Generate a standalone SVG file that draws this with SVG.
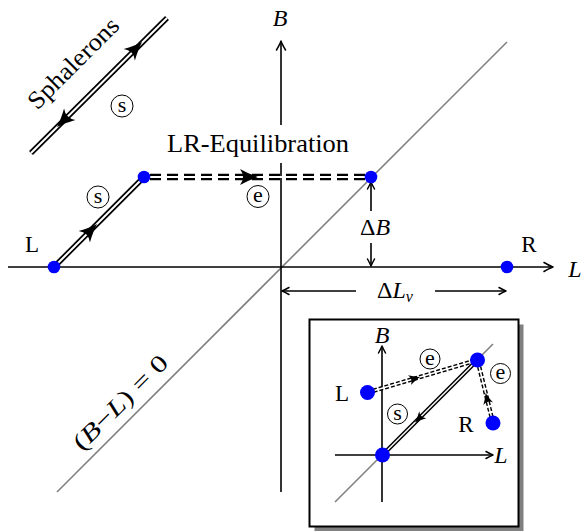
<svg xmlns="http://www.w3.org/2000/svg" width="583" height="531" viewBox="0 0 583 531">
<style>
text{font-family:"Liberation Serif","Times New Roman",serif;fill:#000}
.it{font-style:italic}
.lab{font-size:23px}
.math{font-size:24px}
.cl{font-size:22px}
.ax{stroke:#000;stroke-width:1.6;fill:none}
.gray{stroke:#808080;stroke-width:1.6;fill:none}
.to{fill:none;stroke:#000;stroke-width:1.5;stroke-linecap:round;stroke-linejoin:round}
.dot{fill:#0000ff}
.dblo{stroke:#000;stroke-width:5.5;fill:none}
.dbli{stroke:#fff;stroke-width:2;fill:none}
.dsho{stroke:#000;stroke-width:6.5;stroke-dasharray:11 6;fill:none}
.dshi{stroke:#fff;stroke-width:2.2;fill:none}
.sdblo{stroke:#000;stroke-width:4.4;fill:none}
.sdbli{stroke:#fff;stroke-width:1.5;fill:none}
.sdsho{stroke:#000;stroke-width:4.4;stroke-dasharray:4 2;fill:none}
.circ{fill:none;stroke:#000;stroke-width:1}
</style>
<defs>
<path id="ah" d="M0,0 Q-8,-2.5 -18,-8 Q-12,0 -18,8 Q-8,2.5 0,0Z" fill="#000"/>
<path id="ahs" d="M0,0 Q-5,-1.5 -11,-5 Q-7,0 -11,5 Q-5,1.5 0,0Z" fill="#000"/>
<path id="to" class="to" d="M-9,-4.5 Q-3,-1 0,0 Q-3,1 -9,4.5"/>
<path id="tos" class="to" d="M-7,-3.5 Q-2.5,-1 0,0 Q-2.5,1 -7,3.5"/>
</defs>

<g id="diagonal">
<line class="gray" x1="57" y1="492" x2="507" y2="42"/>
</g>

<g id="axes">
<line class="ax" x1="8" y1="267" x2="552" y2="267"/>
<use href="#to" transform="translate(553,267)"/>
<line class="ax" x1="281" y1="492" x2="281" y2="42"/>
<use href="#to" transform="translate(281,41) rotate(-90)"/>
</g>

<g id="label-LR">
<rect x="163" y="125" width="190" height="38" fill="#fff"/>
<text x="258" y="152" font-size="25" text-anchor="middle" textLength="182" lengthAdjust="spacingAndGlyphs">LR-Equilibration</text>
</g>

<g id="connectors">
<g id="sphaleron-line">
<line class="dblo" x1="31" y1="153" x2="167" y2="18"/>
<line class="dbli" x1="31" y1="153" x2="167" y2="18"/>
<use href="#ah" transform="translate(142,42) rotate(-45)"/>
<use href="#ah" transform="translate(57,127) rotate(135)"/>
</g>
<g id="L-to-S">
<line class="dblo" x1="54" y1="267" x2="144" y2="177"/>
<line class="dbli" x1="54" y1="267" x2="144" y2="177"/>
<use href="#ah" transform="translate(97,224) rotate(-45)"/>
</g>
<g id="S-to-E">
<line class="dsho" x1="150" y1="177" x2="371" y2="177"/>
<line class="dshi" x1="150" y1="177" x2="371" y2="177"/>
<use href="#ah" transform="translate(258,177)"/>
</g>
<g id="dB">
<line class="ax" x1="371" y1="211" x2="371" y2="183"/>
<use href="#tos" transform="translate(371,182) rotate(-90)"/>
<line class="ax" x1="371" y1="243" x2="371" y2="265"/>
<use href="#tos" transform="translate(371,266) rotate(90)"/>
</g>
<g id="dL">
<line class="ax" x1="356" y1="291" x2="283" y2="291"/>
<use href="#tos" transform="translate(282,291) rotate(180)"/>
<line class="ax" x1="435" y1="291" x2="505" y2="291"/>
<use href="#tos" transform="translate(506,291)"/>
</g>
</g>

<g id="node-L">
<circle class="dot" cx="54" cy="267" r="6.3"/>
<text class="lab" x="32" y="252" text-anchor="middle">L</text>
</g>
<g id="node-R">
<circle class="dot" cx="507" cy="267" r="6.3"/>
<text class="lab" x="529" y="252" text-anchor="middle">R</text>
</g>
<g id="node-S">
<circle class="dot" cx="144" cy="177" r="6.3"/>
</g>
<g id="node-E">
<circle class="dot" cx="371" cy="177" r="6.3"/>
</g>

<g id="labels">
<text class="math it" x="280" y="26" text-anchor="middle">B</text>
<text class="math it" x="575" y="277" text-anchor="middle">L</text>
<text class="math" x="375" y="235" text-anchor="middle">Δ<tspan class="it">B</tspan></text>
<text class="math" x="395" y="298" text-anchor="middle">Δ<tspan class="it">L</tspan><tspan class="it" font-size="16" dy="4">ν</tspan></text>
<text font-size="25" x="79" y="69" text-anchor="middle" transform="rotate(-45 79 69)" textLength="118" lengthAdjust="spacingAndGlyphs">Sphalerons</text>
<text font-size="24" x="126" y="408" text-anchor="middle" transform="rotate(-45 126 408)" textLength="124" lengthAdjust="spacingAndGlyphs">(<tspan class="it">B</tspan>−<tspan class="it">L</tspan>) = 0</text>
<g id="s1"><circle class="circ" cx="122" cy="106" r="11"/><text class="cl" x="122" y="111.5" text-anchor="middle">s</text></g>
<g id="s2"><circle class="circ" cx="98" cy="197" r="11"/><text class="cl" x="98" y="202.5" text-anchor="middle">s</text></g>
<g id="e1"><circle class="circ" cx="258" cy="196.5" r="11"/><text class="cl" x="258" y="202" text-anchor="middle">e</text></g>
</g>

<g id="inset">
<rect x="314.5" y="324.5" width="209" height="207" fill="#808080"/>
<rect x="309.5" y="319.5" width="209" height="207" fill="#fff" stroke="#000" stroke-width="2"/>
<line class="gray" x1="335" y1="502" x2="493" y2="344"/>
<line class="ax" x1="335" y1="455" x2="492" y2="455"/>
<use href="#tos" transform="translate(493,455)"/>
<line class="ax" x1="382" y1="502" x2="382" y2="347"/>
<use href="#tos" transform="translate(382,346) rotate(-90)"/>
<text class="math it" x="382" y="343" text-anchor="middle">B</text>
<text class="math it" x="501" y="463" text-anchor="middle">L</text>
<g id="inset-connectors">
<line class="sdsho" x1="367.5" y1="392.5" x2="477.5" y2="360"/>
<line class="sdbli" x1="367.5" y1="392.5" x2="477.5" y2="360"/>
<use href="#ahs" transform="translate(420,377) rotate(-16.5)"/>
<line class="sdsho" x1="493" y1="423" x2="477.5" y2="360"/>
<line class="sdbli" x1="493" y1="423" x2="477.5" y2="360"/>
<use href="#ahs" transform="translate(485.6,393) rotate(-103.8)"/>
<line class="sdblo" x1="477.5" y1="360" x2="382.5" y2="455"/>
<line class="sdbli" x1="477.5" y1="360" x2="382.5" y2="455"/>
<use href="#ahs" transform="translate(415,422.5) rotate(135)"/>
</g>
<g id="inset-node-L"><circle class="dot" cx="367.5" cy="392.5" r="7.5"/><text class="lab" x="342" y="401" text-anchor="middle">L</text></g>
<g id="inset-node-R"><circle class="dot" cx="493" cy="423" r="7.5"/><text class="lab" x="466" y="432" text-anchor="middle">R</text></g>
<g id="inset-node-top"><circle class="dot" cx="477.5" cy="360" r="7.5"/></g>
<g id="inset-node-origin"><circle class="dot" cx="382.5" cy="455" r="7.5"/></g>
<g id="ie1"><circle class="circ" cx="430" cy="359" r="10"/><text class="cl" x="430" y="364.5" text-anchor="middle">e</text></g>
<g id="ie2"><circle class="circ" cx="500.5" cy="373.5" r="10"/><text class="cl" x="500.5" y="379" text-anchor="middle">e</text></g>
<g id="is1"><circle class="circ" cx="397.5" cy="414" r="10"/><text class="cl" x="397.5" y="419.5" text-anchor="middle">s</text></g>
</g>
</svg>
